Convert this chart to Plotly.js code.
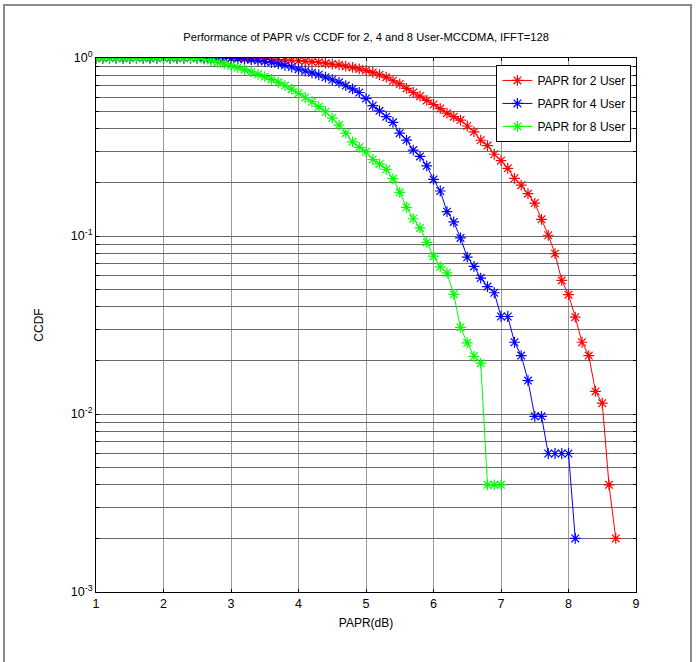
<!DOCTYPE html>
<html>
<head>
<meta charset="utf-8">
<script src="https://cdn.plot.ly/plotly-3.0.1.min.js"></script>
<style>
html,body{margin:0;padding:0;background:#fff;}
#wrap{position:relative;width:696px;height:662px;}
#chart{position:absolute;left:0;top:0;width:696px;height:662px;}
#frame{position:absolute;left:3px;top:4px;width:685px;height:670px;border-left:2px solid #8a8a8a;border-top:2px solid #8a8a8a;border-right:2px solid #8a8a8a;pointer-events:none;}
</style>
</head>
<body>
<div id="wrap"><div id="chart"></div><div id="frame"></div></div>
<script>
// PAPR (dB) sample positions
const papr2 = [1.0,1.1,1.2,1.3,1.4,1.5,1.6,1.7,1.8,1.9,2.0,2.1,2.2,2.3,2.4,2.5,2.6,2.7,2.8,2.9,3.0,3.1,3.2,3.3,3.4,3.5,3.6,3.7,3.8,3.9,4.0,4.1,4.2,4.3,4.4,4.5,4.6,4.7,4.8,4.9,5.0,5.1,5.2,5.3,5.4,5.5,5.6,5.7,5.8,5.9,6.0,6.1,6.2,6.3,6.4,6.5,6.6,6.7,6.8,6.9,7.0,7.1,7.2,7.3,7.4,7.5,7.6,7.7,7.8,7.9,8.0,8.1,8.2,8.3,8.4,8.5,8.6,8.7];
const ccdf2 = [1,1,1,1,1,1,1,1,1,1,1,1,1,1,1,1,1,1,1,1,1,1,1,0.998,0.995,0.99,0.985,0.98,0.975,0.97,0.965,0.96,0.952,0.945,0.935,0.925,0.915,0.9,0.885,0.868,0.85,0.83,0.805,0.78,0.745,0.715,0.675,0.64,0.61,0.578,0.548,0.52,0.49,0.468,0.448,0.415,0.385,0.345,0.322,0.288,0.265,0.24,0.211,0.193,0.173,0.153,0.124,0.101,0.0796,0.0563,0.0468,0.035,0.0253,0.0213,0.0134,0.0115,0.004,0.002];

const papr4 = [1.0,1.1,1.2,1.3,1.4,1.5,1.6,1.7,1.8,1.9,2.0,2.1,2.2,2.3,2.4,2.5,2.6,2.7,2.8,2.9,3.0,3.1,3.2,3.3,3.4,3.5,3.6,3.7,3.8,3.9,4.0,4.1,4.2,4.3,4.4,4.5,4.6,4.7,4.8,4.9,5.0,5.1,5.2,5.3,5.4,5.5,5.6,5.7,5.8,5.9,6.0,6.1,6.2,6.3,6.4,6.5,6.6,6.7,6.8,6.9,7.0,7.1,7.2,7.3,7.4,7.5,7.6,7.7,7.8,7.9,8.0,8.1];
const ccdf4 = [1,1,1,1,1,1,1,1,1,1,1,1,1,1,1,1,1,1,1,1,0.995,0.99,0.984,0.977,0.967,0.955,0.942,0.927,0.91,0.89,0.865,0.845,0.825,0.805,0.78,0.755,0.73,0.70,0.67,0.64,0.592,0.54,0.505,0.468,0.435,0.378,0.346,0.304,0.28,0.248,0.208,0.179,0.137,0.12,0.0975,0.076,0.0675,0.058,0.052,0.048,0.0353,0.0353,0.0253,0.0213,0.0154,0.0097,0.0097,0.006,0.006,0.006,0.006,0.002];

const papr8 = [1.0,1.1,1.2,1.3,1.4,1.5,1.6,1.7,1.8,1.9,2.0,2.1,2.2,2.3,2.4,2.5,2.6,2.7,2.8,2.9,3.0,3.1,3.2,3.3,3.4,3.5,3.6,3.7,3.8,3.9,4.0,4.1,4.2,4.3,4.4,4.5,4.6,4.7,4.8,4.9,5.0,5.1,5.2,5.3,5.4,5.5,5.6,5.7,5.8,5.9,6.0,6.1,6.2,6.3,6.4,6.5,6.6,6.7,6.8,6.9,7.0];
const ccdf8 = [1,1,1,1,1,1,1,1,1,1,1,1,1,1,1,0.993,0.983,0.968,0.948,0.927,0.905,0.883,0.86,0.835,0.81,0.785,0.758,0.73,0.70,0.668,0.634,0.60,0.568,0.533,0.499,0.46,0.42,0.378,0.338,0.315,0.297,0.269,0.254,0.237,0.21,0.176,0.145,0.125,0.111,0.092,0.077,0.067,0.062,0.047,0.0307,0.0251,0.0211,0.0193,0.004,0.004,0.004];

const seriesNames = ['PAPR for 2 User','PAPR for 4 User','PAPR for 8 User'];
const xTickVals = [1,2,3,4,5,6,7,8,9];
const yTickVals = [0.001,0.002,0.003,0.004,0.005,0.006,0.007,0.008,0.009,
                   0.01,0.02,0.03,0.04,0.05,0.06,0.07,0.08,0.09,
                   0.1,0.2,0.3,0.4,0.5,0.6,0.7,0.8,0.9,1];
const yTickText = yTickVals.map(v => {
  const e = Math.log10(v);
  return Math.abs(e - Math.round(e)) < 1e-9 ? '10<sup>' + Math.round(e) + '</sup>' : '';
});

const FONT = 'Liberation Sans, Arial, sans-serif';
function tr(x, y, name, color, grp) {
  return {
    x: x, y: y, name: name, type: 'scatter', mode: 'lines+markers',
    legendgroup: grp,
    line: {color: color, width: 1},
    marker: {symbol: 'asterisk-open', size: 9, color: color, line: {color: color, width: 1.2}}
  };
}
const data = [
  tr(papr2, ccdf2, seriesNames[0], '#ff0000', 'a'),
  tr(papr4, ccdf4, seriesNames[1], '#0000ff', 'b'),
  tr(papr8, ccdf8, seriesNames[2], '#00ff00', 'c')
];
const layout = {
  width: 696, height: 662,
  margin: {l: 96, r: 59.5, t: 57.5, b: 69.5, pad: 0},
  paper_bgcolor: '#fff', plot_bgcolor: '#fff',
  font: {family: FONT, size: 12, color: '#000'},
  showlegend: true,
  title: {text: 'Performance of PAPR v/s CCDF for 2, 4 and 8 User-MCCDMA, IFFT=128',
          font: {family: FONT, size: 11.2, color: '#000'},
          x: 0.526, xanchor: 'center', y: 0.944, yanchor: 'middle'},
  xaxis: {
    range: [1, 9], tickvals: xTickVals, ticktext: xTickVals.map(String),
    showgrid: true, gridcolor: '#9a9a9a', gridwidth: 1,
    showline: true, linecolor: '#000', linewidth: 1, mirror: 'ticks',
    ticks: 'inside', ticklen: 3, tickcolor: '#000', zeroline: false,
    tickfont: {family: FONT, size: 12.5, color: '#000'},
    title: {text: 'PAPR(dB)', font: {family: FONT, size: 12, color: '#000'}, standoff: 8}
  },
  yaxis: {
    type: 'log', range: [-3, 0], tickvals: yTickVals, ticktext: yTickText,
    showgrid: true, gridcolor: '#6a6a6a', gridwidth: 1,
    showline: true, linecolor: '#000', linewidth: 1, mirror: 'ticks',
    ticks: 'inside', ticklen: 3, tickcolor: '#000', zeroline: false,
    tickfont: {family: FONT, size: 12.5, color: '#000'},
    title: {text: 'CCDF', font: {family: FONT, size: 12, color: '#000'}, standoff: 24}
  },
  legend: {
    x: 0.9915, xanchor: 'right', y: 0.987, yanchor: 'top',
    bgcolor: '#fff', bordercolor: '#000', borderwidth: 1,
    font: {family: FONT, size: 12, color: '#000'},
    tracegroupgap: 4, itemwidth: 30
  }
};
Plotly.newPlot('chart', data, layout, {displayModeBar: false, staticPlot: true});
</script>
</body>
</html>
